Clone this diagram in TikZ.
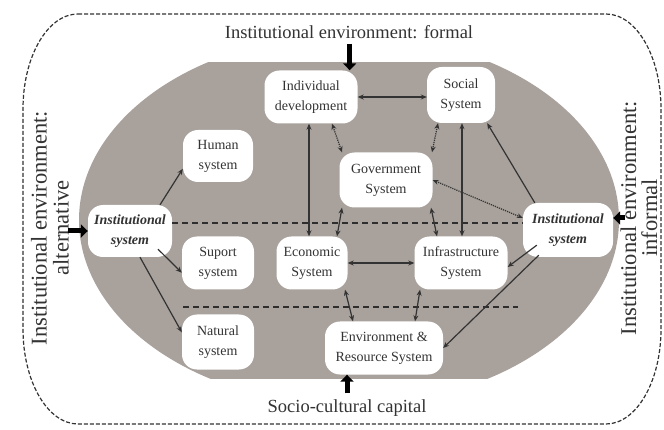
\documentclass[tikz,border=0pt]{standalone}
\usepackage{fontspec}
\setmainfont{Liberation Serif}
\usetikzlibrary{arrows.meta}
\definecolor{shapegray}{HTML}{A8A19C}
\definecolor{inkgray}{HTML}{333333}
\tikzset{
  sysbox/.style={fill=white, draw=none, rounded corners=15pt, align=center, inner sep=0pt,
    text=inkgray, font=\fontsize{14}{20}\selectfont},
  conn/.style={draw=inkgray, line width=1.2pt, -{Stealth[length=6pt,width=5pt]}},
  dconn/.style={draw=inkgray, line width=1.2pt, {Stealth[length=6pt,width=5pt]}-{Stealth[length=6pt,width=5pt]}},
  dotconn/.style={dconn, densely dotted},
  sepline/.style={draw=inkgray!90!black, line width=1.4pt, dash pattern=on 6pt off 4pt},
  bigarrow/.style={draw=black, line width=5pt, -{Triangle[length=7pt,width=13pt]}},
  envtext/.style={text=inkgray, align=center, inner sep=0pt}
}
\begin{document}
\begin{tikzpicture}[x=1pt,y=-1pt]
\useasboundingbox (0,0) rectangle (664,430);
\fill[white] (0,0) rectangle (664,430);
% outer dashed border
\draw[inkgray, line width=1.2pt, dash pattern=on 4pt off 2pt]
  (78,14) -- (606,14) .. controls (636.4,14) and (661,56.5) .. (661,109)
  -- (661,329) .. controls (661,381.5) and (636.4,424) .. (606,424)
  -- (78,424) .. controls (47.6,424) and (23,381.5) .. (23,329)
  -- (23,109) .. controls (23,56.5) and (47.6,14) .. (78,14) -- cycle;
% gray shape
\begin{scope}
  \clip (0,63) rectangle (664,378);
  \fill[shapegray] (349,220) ellipse [x radius=270, y radius=185];
\end{scope}
% texts
\node[envtext, font=\fontsize{18.5}{22}\selectfont] (tformal) at (349,32) {Institutional environment: formal};
\node[envtext, font=\fontsize{18.5}{22}\selectfont] (tsocio) at (347,408) {Socio-cultural capital};
\node[envtext, rotate=90, font=\fontsize{22.5}{22}\selectfont] (talt) at (50,228) {Institutional environment:\\alternative};
\node[envtext, fill=white, rotate=90, font=\fontsize{22.5}{21}\selectfont] (tinf) at (639,218) {Institutional environment:\\informal};
% separators
\coordinate (la) at (183,307);
\coordinate (lb) at (518,307);
% nodes
\node[sysbox, minimum width=93pt, minimum height=53pt] (ind) at (311,97) {Individual\\development};
\node[sysbox, minimum width=68pt, minimum height=56pt] (soc) at (461,95) {Social\\System};
\node[sysbox, minimum width=93pt, minimum height=55pt] (gov) at (386,180) {Government\\System};
\node[sysbox, minimum width=70pt, minimum height=52pt] (hum) at (218,156) {Human\\system};
\node[sysbox, minimum width=84pt, minimum height=52pt] (instL) at (130,231) {\textbf{\textit{Institutional}}\\\textbf{\textit{system}}};
\node[sysbox, minimum width=72pt, minimum height=53pt] (sup) at (218,263) {Suport\\system};
\node[sysbox, minimum width=72pt, minimum height=55pt] (nat) at (218,342) {Natural\\system};
\node[sysbox, minimum width=71pt, minimum height=53pt] (eco) at (312,263) {Economic\\System};
\node[sysbox, minimum width=93pt, minimum height=53pt] (inf) at (461,263) {Infrastructure\\System};
\node[sysbox, minimum width=118pt, minimum height=53pt] (env) at (384,348) {Environment \&\\Resource System};
\node[sysbox, minimum width=90pt, minimum height=54pt] (instR) at (568,230) {\textbf{\textit{Institutional}}\\\textbf{\textit{system}}};
% dashed separators
\draw[sepline] ([yshift=8pt]instL.east) -- ([yshift=7pt]instR.west);
\draw[sepline] (la) -- (lb);
% connectors
\draw[dconn] ([xshift=-2pt]ind.south) -- ([xshift=-3pt]eco.north);
\draw[dconn] ([xshift=1pt]soc.south) -- ([xshift=1pt]inf.north);
\draw[dconn] (ind.east) -- (soc.west |- ind.east);
\draw[dconn] (eco.east) -- (inf.west);
\draw[dotconn] ([xshift=21pt]ind.south) -- ([xshift=-44pt]gov.north);
\draw[dotconn] ([xshift=-23pt]soc.south) -- ([xshift=46pt]gov.north);
\draw[dconn] ([xshift=-44pt]gov.south) -- ([xshift=25pt]eco.north);
\draw[dconn] ([xshift=45pt]gov.south) -- ([xshift=-24pt]inf.north);
\draw[dconn] ([xshift=33pt]eco.south) -- ([xshift=-31pt]env.north);
\draw[dconn] ([xshift=-41pt]inf.south) -- ([xshift=31pt]env.north);
\draw[dotconn] (gov.east) -- ([yshift=12pt]instR.west);
\draw[conn] ([xshift=30pt]instL.north) -- (hum.200);
\draw[conn] ([xshift=28pt,yshift=8pt]instL.south) -- (sup.195);
\draw[conn] ([xshift=10pt]instL.south) -- (nat.165);
\draw[conn] ([xshift=12pt]instR.north west) -- ([xshift=-8pt]soc.south east);
\draw[conn] ([xshift=14pt,yshift=12pt]instR.south west) -- ([yshift=-4pt]inf.east);
\draw[conn] ([xshift=16pt,yshift=2pt]instR.south west) -- (env.east);
% big arrows
\draw[bigarrow] ([yshift=-5pt]tformal.south -| ind.east) ++(-8pt,0) coordinate (fa) -- (fa |- ind.north);
\draw[bigarrow] ([yshift=6pt]tsocio.north) -- (tsocio.north |- env.south);
\draw[bigarrow] ([xshift=-20pt]instL.west) -- (instL.west);
\draw[bigarrow] ([xshift=12pt,yshift=12pt]instR.east) -- ([yshift=12pt]instR.east);
\end{tikzpicture}
\end{document}
